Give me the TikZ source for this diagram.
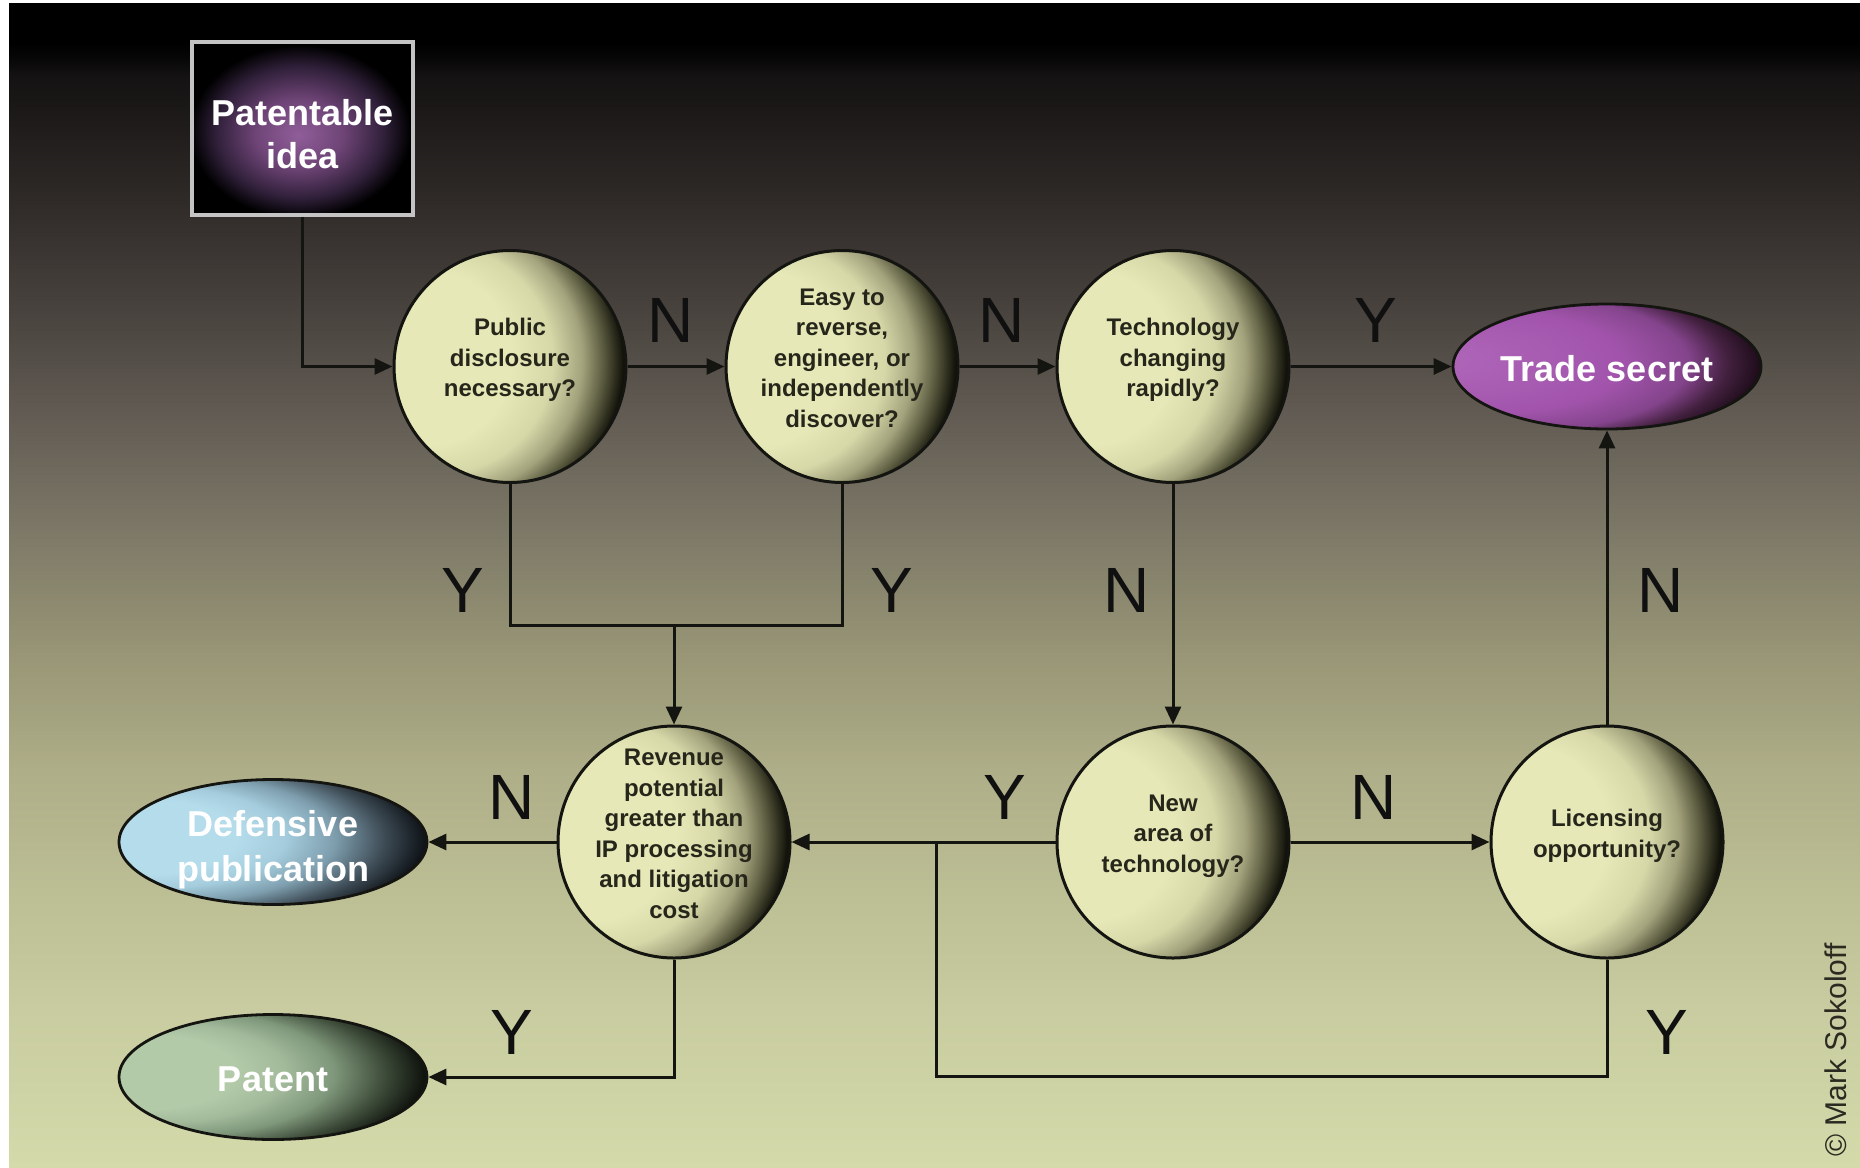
\documentclass[tikz,border=0pt]{standalone}
\usepackage{fontspec}
\setmainfont{Liberation Sans}
\usetikzlibrary{shapes.geometric,arrows.meta}

% palette
\definecolor{linec}{HTML}{141410}
\definecolor{ync}{HTML}{101010}
\definecolor{qtextc}{HTML}{26261A}
\definecolor{framec}{HTML}{C4C4C4}
\definecolor{copyc}{HTML}{2A2A20}
% backdrop
\definecolor{bgA}{HTML}{D4DAAA}
\definecolor{bgB}{HTML}{C8CCA0}
\definecolor{bgC}{HTML}{BCBE94}
\definecolor{bgD}{HTML}{AEAE88}
\definecolor{bgE}{HTML}{989676}
\definecolor{bgF}{HTML}{7E7A68}
\definecolor{bgG}{HTML}{625C54}
\definecolor{bgH}{HTML}{46403C}
\definecolor{bgI}{HTML}{2A2624}
\definecolor{bgJ}{HTML}{141212}
\definecolor{bgK}{HTML}{060606}
% question circles
\definecolor{crA}{HTML}{E6E8B8}
\definecolor{crB}{HTML}{D6D8A8}
\definecolor{crC}{HTML}{A2A27C}
\definecolor{crD}{HTML}{56563C}
\definecolor{crE}{HTML}{12120A}
% trade secret
\definecolor{puA}{HTML}{B068BA}
\definecolor{puB}{HTML}{A254AC}
\definecolor{puC}{HTML}{84448C}
\definecolor{puD}{HTML}{42203E}
\definecolor{puE}{HTML}{160812}
% defensive publication
\definecolor{blA}{HTML}{B4DCEB}
\definecolor{blB}{HTML}{A4CCDC}
\definecolor{blC}{HTML}{7E9EAE}
\definecolor{blD}{HTML}{3E4C56}
\definecolor{blE}{HTML}{10151A}
% patent
\definecolor{grA}{HTML}{B2CAA8}
\definecolor{grB}{HTML}{A2BA9A}
\definecolor{grC}{HTML}{7E967A}
\definecolor{grD}{HTML}{3E4C3A}
\definecolor{grE}{HTML}{10140E}
% start box glow
\definecolor{glA}{HTML}{905E9A}
\definecolor{glB}{HTML}{6E4476}
\definecolor{glC}{HTML}{30203A}

\pgfdeclareverticalshading{backdrop}{100bp}{%
  color(0bp)=(bgA); color(25bp)=(bgA); color(31.8bp)=(bgB); color(36.9bp)=(bgC);
  color(42bp)=(bgD); color(47bp)=(bgE); color(52.1bp)=(bgF); color(57.2bp)=(bgG);
  color(62.3bp)=(bgH); color(67.4bp)=(bgI); color(71.9bp)=(bgJ); color(72.7bp)=(bgK);
  color(73.3bp)=(black); color(100bp)=(black)}
% lit from the left: dark crescent on the right-hand side
\pgfdeclareradialshading{creamball}{\pgfpoint{-30bp}{3bp}}{%
  color(0bp)=(crA); color(19bp)=(crA); color(24.5bp)=(crB); color(28.5bp)=(crC);
  color(31.5bp)=(crD); color(34bp)=(crE); color(50bp)=(crE)}
\pgfdeclareradialshading{purpleball}{\pgfpoint{-30bp}{3bp}}{%
  color(0bp)=(puA); color(20bp)=(puB); color(27bp)=(puC); color(31bp)=(puD);
  color(35bp)=(puE); color(50bp)=(puE)}
\pgfdeclareradialshading{blueball}{\pgfpoint{-30bp}{3bp}}{%
  color(0bp)=(blA); color(15bp)=(blA); color(20bp)=(blB); color(25bp)=(blC);
  color(30bp)=(blD); color(34bp)=(blE); color(50bp)=(blE)}
\pgfdeclareradialshading{greenball}{\pgfpoint{-30bp}{3bp}}{%
  color(0bp)=(grA); color(15bp)=(grA); color(20bp)=(grB); color(25bp)=(grC);
  color(30bp)=(grD); color(34bp)=(grE); color(50bp)=(grE)}
\pgfdeclareradialshading{ideaglow}{\pgfpoint{-1bp}{-2bp}}{%
  color(0bp)=(glA); color(10bp)=(glB); color(19bp)=(glC); color(25bp)=(black);
  color(50bp)=(black)}

% centred multi-line text that does not enlarge its shape
\newcommand{\qtxt}[1]{\smash{\begin{tabular}{@{}c@{}}#1\end{tabular}}}
\newcommand{\lowtxt}[2]{\smash{\raisebox{#1}{\begin{tabular}{@{}c@{}}#2\end{tabular}}}}

\begin{document}
\begin{tikzpicture}[x=1pt,y=-1pt,
  question/.style={circle, draw=linec, line width=3pt, shading=creamball,
    minimum size=232pt, inner sep=0pt,
    font=\fontsize{24}{30.5}\selectfont\bfseries, text=qtextc},
  outcome/.style={ellipse, draw=linec, line width=2.8pt,
    minimum width=308pt, minimum height=125pt, inner sep=0pt,
    font=\fontsize{36}{45}\selectfont\bfseries, text=white, align=center},
  startbox/.style={rectangle, draw=framec, line width=4pt, shading=ideaglow,
    minimum width=221pt, minimum height=173pt, inner sep=0pt,
    font=\fontsize{36}{43}\selectfont\bfseries, text=white},
  yn/.style={font=\fontsize{64}{64}\selectfont, text=ync, inner sep=0pt},
  flow/.style={draw=linec, line width=3pt},
  arr/.style={flow, -{Triangle[length=18pt,width=16pt]}}]

\useasboundingbox (0,0) rectangle (1860,1167);
\fill[white] (0,0) rectangle (1860,1167);
\shade[shading=backdrop] (9,3) rectangle (1860,1167);

% nodes
\node[startbox] (idea) at (302.5,128) {\lowtxt{-17pt}{Patentable\\idea}};
\node[question] (pub)  at (510,366.5)  {\qtxt{Public\\disclosure\\necessary?}};
\node[question] (easy) at (842,366.5)  {\qtxt{Easy to\\reverse,\\engineer, or\\independently\\discover?}};
\node[question] (tech) at (1173,366.5) {\qtxt{Technology\\changing\\rapidly?}};
\node[outcome, shading=purpleball] (trade) at (1607,366.5) {\lowtxt{-12pt}{Trade secret}};
\node[question] (rev)  at (674,842)  {\qtxt{Revenue\\potential\\greater than\\IP processing\\and litigation\\cost}};
\node[question] (new)  at (1173,842) {\qtxt{New\\area of\\technology?}};
\node[question] (lic)  at (1607,842) {\qtxt{Licensing\\opportunity?}};
\node[outcome, shading=blueball]  (def) at (273,842)  {\lowtxt{-14pt}{Defensive\\publication}};
\node[outcome, shading=greenball] (pat) at (273,1077) {\lowtxt{-12pt}{Patent}};

% connectors
\coordinate (join) at (674,625);
\coordinate (loop) at (936,842);
\coordinate (loopcorner) at (936,1076);

\draw[arr] (idea.south) |- (pub.west);
\draw[arr] (pub.east) -- (easy.west);
\draw[arr] (easy.east) -- (tech.west);
\draw[arr] (tech.east) -- (trade.west);
\draw[flow] (pub.south) |- (join) -| (easy.south);
\draw[arr] (join) -- (rev.north);
\draw[arr] (tech.south) -- (new.north);
\draw[arr] (lic.north) -- (trade.south);
\draw[arr] (new.east) -- (lic.west);
\draw[arr] (new.west) -- (rev.east);
\draw[flow] (lic.south) |- (loopcorner) -- (loop);
\draw[arr] (rev.west) -- (def.east);
\draw[arr] (rev.south) |- (pat.east);

% answer labels
\node[yn] (lN1) at (671,320)  {N};
\node[yn] (lN2) at (1002,320) {N};
\node[yn] (lY1) at (1376,320) {Y};
\node[yn] (lY2) at (463,590)  {Y};
\node[yn] (lY3) at (892,590)  {Y};
\node[yn] (lN3) at (1127,590) {N};
\node[yn] (lN4) at (1661,590) {N};
\node[yn] (lN5) at (512,797)  {N};
\node[yn] (lY4) at (1005,797) {Y};
\node[yn] (lN6) at (1374,797) {N};
\node[yn] (lY5) at (512,1032) {Y};
\node[yn] (lY6) at (1667,1032) {Y};

% credit line
\node[rotate=90, font=\fontsize{30}{30}\selectfont, text=copyc, inner sep=0pt]
  (credit) at (1836,1050) {© Mark Sokoloff};
\end{tikzpicture}
\end{document}
